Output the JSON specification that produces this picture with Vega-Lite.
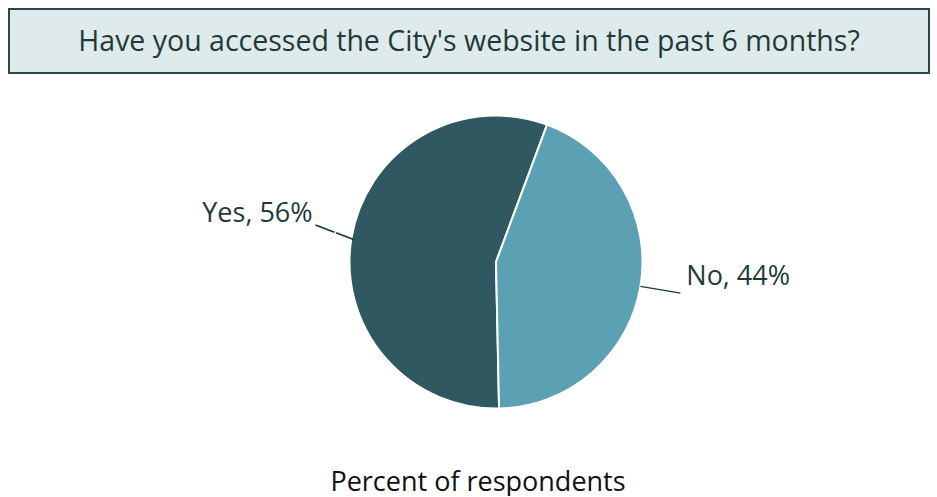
{
  "$schema": "https://vega.github.io/schema/vega-lite/v6.json",
  "background": "white",
  "padding": {"left": 8, "top": 8, "right": 0, "bottom": 0},
  "autosize": {"type": "pad"},
  "config": {"font": "Open Sans", "view": {"stroke": null}},
  "datasets": {
    "question": [{"question": "Have you accessed the City's website in the past 6 months?"}],
    "responses": [
      {"answer": "Yes", "percent": 56, "label": "Yes, 56%"},
      {"answer": "No", "percent": 44, "label": "No, 44%"}
    ]
  },
  "spacing": 20,
  "vconcat": [
    {
      "width": 920,
      "height": 64,
      "view": {"fill": "#dfeaec", "stroke": "#2b4a45", "strokeWidth": 2},
      "data": {"name": "question"},
      "mark": {"type": "text", "fontSize": 28.5, "color": "#1f3b37", "baseline": "middle", "dy": 1},
      "encoding": {"text": {"field": "question", "type": "nominal"}}
    },
    {
      "width": 920,
      "height": 336,
      "data": {"name": "responses"},
      "title": {"text": "Percent of respondents", "orient": "bottom", "fontSize": 27, "fontWeight": "normal", "color": "#111111", "offset": 61, "baseline": "alphabetic", "anchor": "middle", "dx": 9},
      "layer": [
        {
          "mark": {"type": "arc", "outerRadius": 146.5, "stroke": "white", "strokeWidth": 2, "xOffset": 27},
          "encoding": {
            "theta": {"field": "percent", "type": "quantitative", "stack": true, "scale": {"range": [0.356, 6.639]}},
            "color": {"field": "answer", "type": "nominal", "scale": {"domain": ["No", "Yes"], "range": ["#5ba1b3", "#2f5860"]}, "legend": null}
          }
        },
        {
          "mark": {"type": "arc", "radius": 187, "radius2": 146.5, "padAngle": 3, "fill": null, "stroke": "#1f3b37", "strokeWidth": 1.4, "xOffset": 27, "strokeOpacity": {"expr": "datum.answer == 'No' ? 1 : 0"}},
          "encoding": {
            "theta": {"field": "percent", "type": "quantitative", "stack": true, "scale": {"range": [0.356, 6.639]}},
            "detail": {"field": "answer", "type": "nominal"}
          }
        },
        {
          "mark": {"type": "text", "radius": 164, "fontSize": 22, "color": "#1f3b37", "align": "center", "baseline": "middle", "angle": 20.7, "dy": -3.5, "xOffset": 27, "text": {"expr": "datum.answer == 'Yes' ? '——' : ''"}},
          "encoding": {
            "theta": {"field": "percent", "type": "quantitative", "stack": true, "scale": {"range": [0.356, 6.639]}},
            "detail": {"field": "answer", "type": "nominal"}
          }
        },
        {
          "mark": {"type": "text", "fontSize": 27, "color": "#1f3b37", "baseline": "middle", "dy": -17, "xOffset": 27, "radius": {"expr": "datum.answer == 'Yes' ? 186 : 193"}, "align": {"expr": "datum.answer == 'Yes' ? 'right' : 'left'"}},
          "encoding": {
            "theta": {"field": "percent", "type": "quantitative", "stack": true, "scale": {"range": [0.356, 6.639]}},
            "detail": {"field": "answer", "type": "nominal"},
            "text": {"field": "label", "type": "nominal"}
          }
        }
      ]
    }
  ]
}
